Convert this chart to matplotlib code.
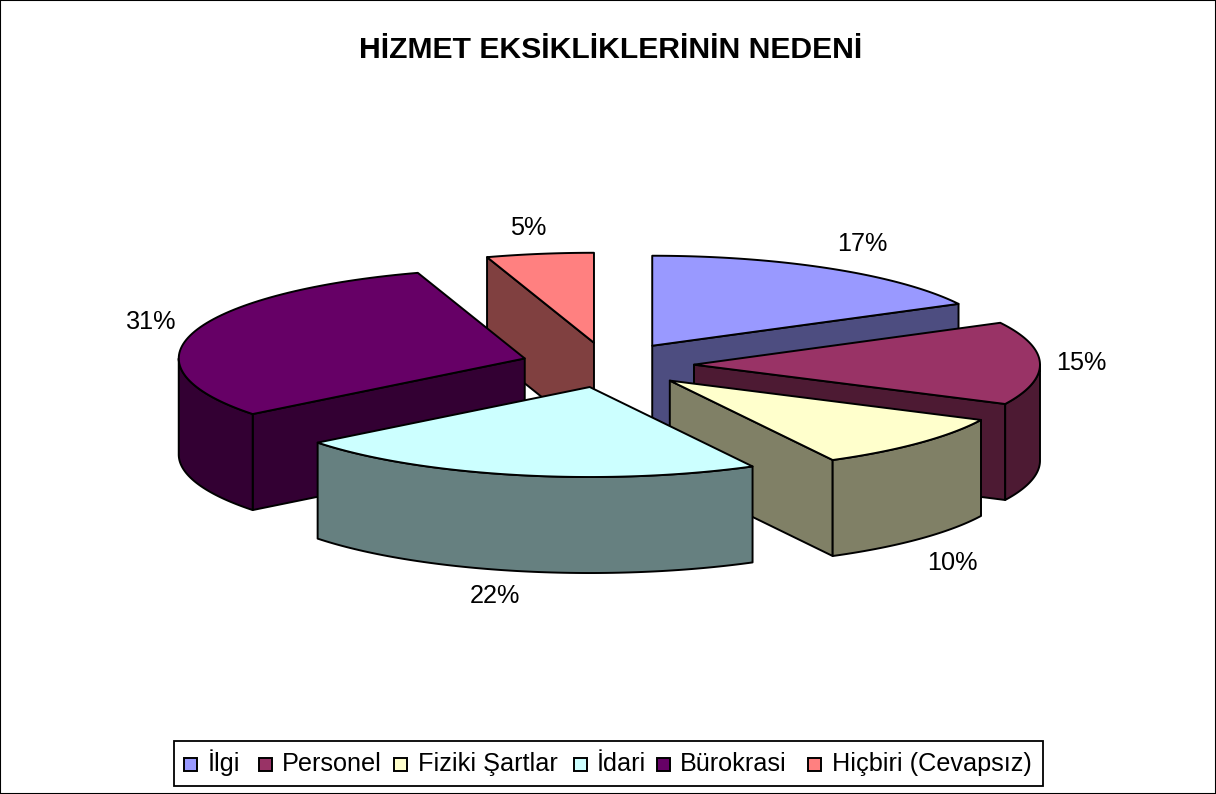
import numpy as np
import matplotlib
matplotlib.use("Agg")
import matplotlib.pyplot as plt
from matplotlib.patches import Polygon, Rectangle
from matplotlib.colors import to_rgb

plt.rcParams['font.family'] = ['Liberation Sans', 'DejaVu Sans']

title = "HİZMET EKSİKLİKLERİNİN NEDENİ"
categories = ["İlgi", "Personel", "Fiziki Şartlar", "İdari", "Bürokrasi", "Hiçbiri (Cevapsız)"]
values = [17.3, 14.9, 10.0, 22.2, 30.6, 5.0]
colors = ["#9999FF", "#993366", "#FFFFCC", "#CCFFFF", "#660066", "#FF8080"]

# pie geometry in figure pixels
cx, cy = 607.5, 365
rx, ry = 346, 90
depth = 96
explode = 0.25
# back to front
draw_order = [5, 0, 4, 1, 2, 3]
label_nudge = [(31, -25), (41, 0), (33, 24), (-24, 25), (-42, -10), (-12, -26)]
# legend layout, the gaps in the original are not even
swatch_x = [184, 259, 394, 574, 657, 808]
text_x = [208, 282, 418, 597, 680, 832]


def rim(mx, my, a0, a1):
    # clockwise angles from 12 o'clock, in degrees
    t = np.radians(np.linspace(a0, a1, 80))
    return np.column_stack([mx + rx * np.sin(t), my - ry * np.cos(t)])


fig = plt.figure(figsize=(12.16, 7.94), dpi=100)
ax = fig.add_axes([0, 0, 1, 1])
ax.set_xlim(0, 1216)
ax.set_ylim(794, 0)
ax.set_xticks([])
ax.set_yticks([])
for s in ax.spines.values():
    s.set_linewidth(1.5)

total = sum(values)
edges = np.cumsum([0] + values) / total * 360
down = np.array([0, depth])

for z, i in enumerate(draw_order):
    a0, a1 = edges[i], edges[i + 1]
    mid = np.radians((a0 + a1) / 2)
    mx = cx + explode * rx * np.sin(mid)
    my = cy - explode * ry * np.cos(mid)
    apex = np.array([mx, my])
    top = rim(mx, my, a0, a1)
    side = tuple(c * 0.5 for c in to_rgb(colors[i]))
    style = dict(edgecolor="black", linewidth=1.4, joinstyle="round", zorder=z + 2)

    # cut faces that look towards the viewer
    if np.sin(np.radians(a0)) < -1e-6:
        face = np.array([apex, top[0], top[0] + down, apex + down])
        ax.add_patch(Polygon(face, facecolor=side, **style))
    if np.sin(np.radians(a1)) > 1e-6:
        face = np.array([apex, top[-1], top[-1] + down, apex + down])
        ax.add_patch(Polygon(face, facecolor=side, **style))
    # front part of the outer wall
    lo, hi = max(a0, 90), min(a1, 270)
    if lo < hi:
        arc = rim(mx, my, lo, hi)
        ax.add_patch(Polygon(np.vstack([arc, arc[::-1] + down]), facecolor=side, **style))
    ax.add_patch(Polygon(np.vstack([apex, top]), facecolor=colors[i], **style))

    # percent label next to the rim
    mid_pt = rim(mx, my, (a0 + a1) / 2, (a0 + a1) / 2)[0]
    if 90 < (a0 + a1) / 2 < 270:
        mid_pt = mid_pt + down
    ax.text(mid_pt[0] + label_nudge[i][0], mid_pt[1] + label_nudge[i][1], f"{values[i]:.0f}%",
            fontsize=18.2, ha="center", va="center", color="black", zorder=20)

ax.text(611, 58, title, fontsize=21.7, fontweight="bold", ha="center", va="baseline")

# legend
ax.add_patch(Rectangle((174, 741), 869, 45, facecolor="white", edgecolor="black", linewidth=1.3, zorder=30))
for i, name in enumerate(categories):
    ax.add_patch(Rectangle((swatch_x[i], 758), 13, 13, facecolor=colors[i], edgecolor="black",
                           linewidth=1.4, zorder=31))
    ax.text(text_x[i], 771, name, fontsize=18.2, ha="left", va="baseline", zorder=31)

fig.savefig("out.png", dpi=100)
